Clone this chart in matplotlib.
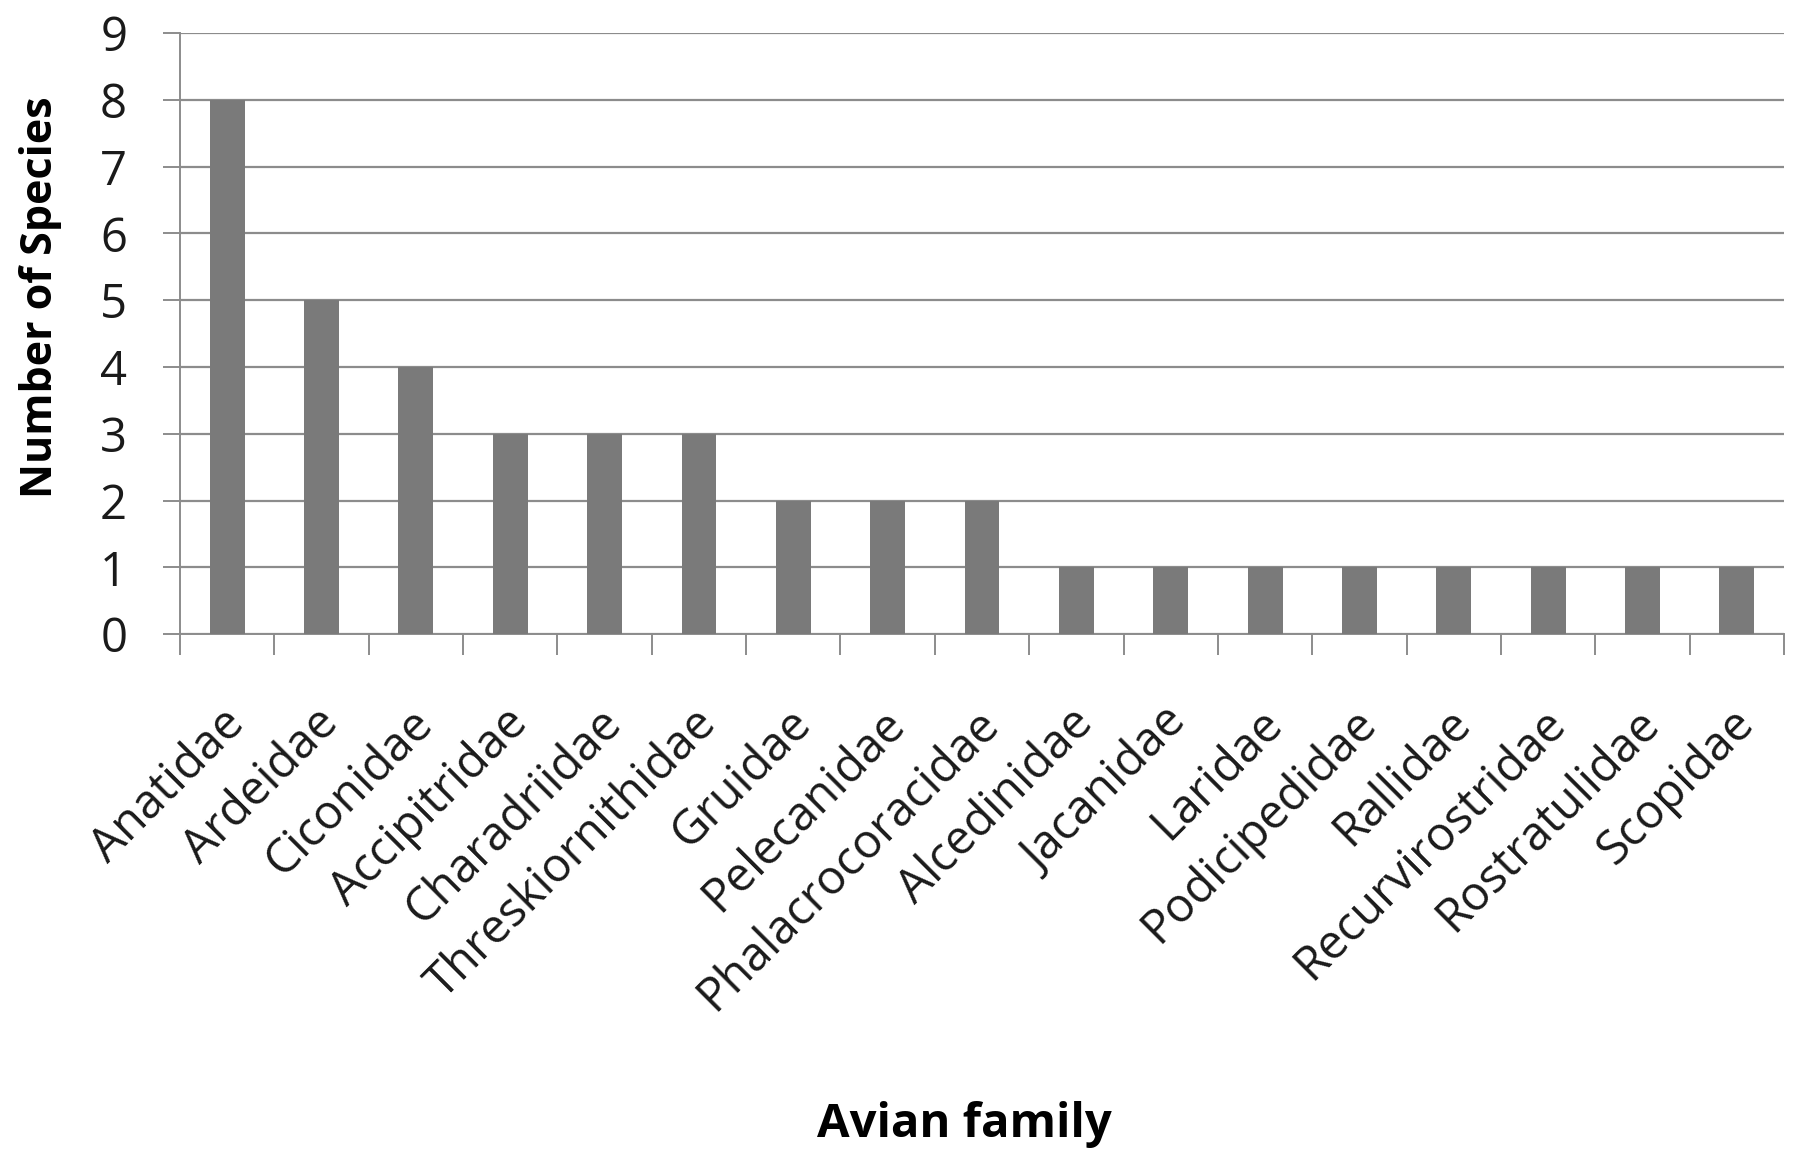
import numpy as np
import matplotlib
matplotlib.use("Agg")
import matplotlib.pyplot as plt
import matplotlib.transforms as mtransforms
from matplotlib.ticker import FixedLocator

families = ["Anatidae", "Ardeidae", "Ciconidae", "Accipitridae", "Charadriidae",
            "Threskiornithidae", "Gruidae", "Pelecanidae", "Phalacrocoracidae",
            "Alcedinidae", "Jacanidae", "Laridae", "Podicipedidae", "Rallidae",
            "Recurvirostridae", "Rostratulidae", "Scopidae"]
species = [8, 5, 4, 3, 3, 3, 2, 2, 2, 1, 1, 1, 1, 1, 1, 1, 1]
y_ticks = [0, 1, 2, 3, 4, 5, 6, 7, 8, 9]

plt.rcParams["font.family"] = ["Open Sans", "DejaVu Sans"]

fig = plt.figure(figsize=(17.93, 11.53), dpi=100)
ax = fig.add_axes([0.1004, 0.450, 0.8946, 0.5214])

grid_color = "#8c8c8c"
x = np.arange(len(families))
ax.bar(x, species, width=0.37, color="#7a7a7a", zorder=3)

ax.set_xlim(-0.5, len(families) - 0.5)
ax.set_ylim(0, 9)
ax.set_yticks(y_ticks)
ax.yaxis.grid(True, color=grid_color, linewidth=1.6, zorder=0)
ax.set_axisbelow(True)

for side in ("top", "right"):
    ax.spines[side].set_visible(False)
for side in ("left", "bottom"):
    ax.spines[side].set_color(grid_color)
    ax.spines[side].set_linewidth(1.4)

ax.tick_params(axis="y", length=12, width=1.4, color=grid_color, pad=26,
               labelsize=34, labelcolor="#1a1a1a")

# Category labels at bar centres, tick marks at category boundaries
ax.set_xticks(x)
ax.set_xticklabels(families, rotation=45, ha="right", rotation_mode="anchor",
                   fontsize=34, color="#1a1a1a")
ax.tick_params(axis="x", which="major", length=0, pad=47)
shift = mtransforms.ScaledTranslation(-5 / 72, 0, fig.dpi_scale_trans)
for lbl in ax.get_xticklabels():
    lbl.set_transform(lbl.get_transform() + shift)
ax.xaxis.set_minor_locator(FixedLocator(np.arange(-0.5, len(families), 1.0)))
ax.tick_params(axis="x", which="minor", length=15, width=1.4, color=grid_color)

ax.set_ylabel("Number of Species", fontsize=31, fontweight="bold")
ax.yaxis.set_label_coords(-0.0736, 0.561)
fig.text(0.5377, 0.0135, "Avian family", fontsize=34, fontweight="bold",
         ha="center", va="baseline")

fig.savefig("out.png", dpi=100, facecolor="white")
